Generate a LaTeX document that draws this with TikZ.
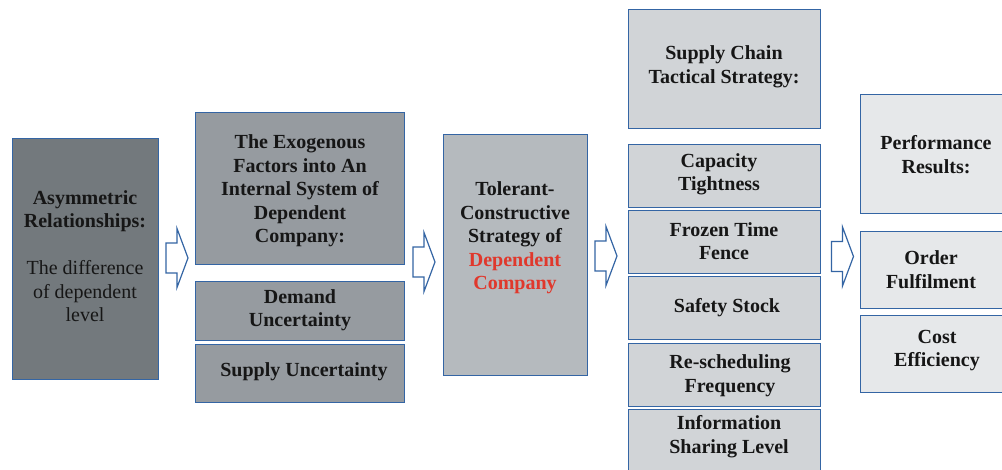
\documentclass[tikz,border=0pt]{standalone}
\usepackage{fontspec}
\setmainfont{Liberation Serif}
\newfontfamily\tnr{Liberation Serif}
\definecolor{bordc}{RGB}{52,101,164}
\definecolor{fA}{RGB}{115,121,125}
\definecolor{fB}{RGB}{150,155,160}
\definecolor{fC}{RGB}{181,186,190}
\definecolor{fD}{RGB}{209,212,215}
\definecolor{fE}{RGB}{230,232,234}
\definecolor{txtc}{RGB}{22,22,22}
\definecolor{redc}{RGB}{224,56,44}
\tikzset{
  box/.style={draw=bordc, line width=1.3pt, fill=#1, anchor=north west, inner sep=0pt},
  txt/.style={align=center, text=txtc, font=\tnr\fontsize{20}{23.5}\selectfont\bfseries, inner sep=0pt},
  blockarrow/.pic={
    \draw[draw=bordc, line width=1.2pt, fill=white, line join=miter]
      (-11,-15) -- (0,-15) -- (0,-29.5) -- (11,0) -- (0,29.5) -- (0,15) -- (-11,15) -- cycle;
  }
}
\begin{document}
\begin{tikzpicture}[x=1pt,y=-1pt]
\useasboundingbox (0,0) rectangle (1002,470);
\clip (0,0) rectangle (1002,470);
\fill[white] (0,0) rectangle (1002,470);
% column 1
\node[box=fA, minimum width=146pt, minimum height=241pt] (b1) at (12,138) {};
\node[txt] (t1) at (85,256) {Asymmetric\\Relationships:\\[23.5pt]\mdseries The difference\\\mdseries of dependent\\\mdseries level};
% column 2
\node[box=fB, minimum width=209pt, minimum height=152pt] (b2) at (195,112) {};
\node[txt] (t2) at (300,191) {The Exogenous\\Factors into An\\Internal System of\\Dependent\\Company:};
\node[box=fB, minimum width=209pt, minimum height=59pt] (b2a) at (195,281) {};
\node[txt] (t2a) at (300,310) {Demand\\Uncertainty};
\node[box=fB, minimum width=209pt, minimum height=58pt] (b2b) at (195,344) {};
\node[txt] (t2b) at (304,372) {Supply Uncertainty};
% column 3
\node[box=fC, minimum width=144pt, minimum height=241pt] (b3) at (443,134) {};
\node[txt] (t3) at (515,238) {Tolerant-\\Constructive\\Strategy of\\\textcolor{redc}{Dependent}\\\textcolor{redc}{Company}};
% column 4
\node[box=fD, minimum width=192pt, minimum height=119pt] (b4) at (628,9) {};
\node[txt] (t4) at (724,67) {Supply Chain\\Tactical Strategy:};
\node[box=fD, minimum width=192pt, minimum height=63pt] (b4a) at (628,144) {};
\node[txt] (t4a) at (719,174.5) {Capacity\\Tightness};
\node[box=fD, minimum width=192pt, minimum height=63pt] (b4b) at (628,210) {};
\node[txt] (t4b) at (724,241) {Frozen Time\\Fence};
\node[box=fD, minimum width=192pt, minimum height=63pt] (b4c) at (628,276) {};
\node[txt] (t4c) at (727,308) {Safety Stock};
\node[box=fD, minimum width=192pt, minimum height=63pt] (b4d) at (628,343) {};
\node[txt] (t4d) at (730,375.5) {Re-scheduling\\Frequency};
\node[box=fD, minimum width=192pt, minimum height=70pt] (b4e) at (628,409) {};
\node[txt] (t4e) at (729,436.5) {Information\\Sharing Level};
% column 5
\node[box=fE, minimum width=150pt, minimum height=119pt] (b5) at (860,94) {};
\node[txt] (t5) at (936,154.5) {Performance\\Results:};
\node[box=fE, minimum width=150pt, minimum height=77pt] (b5a) at (860,231) {};
\node[txt] (t5a) at (931,269.5) {Order\\Fulfilment};
\node[box=fE, minimum width=150pt, minimum height=77pt] (b5b) at (860,315) {};
\node[txt] (t5b) at (937,350.5) {Cost\\Efficiency};
% block arrows
\pic (a1) at (177,258) {blockarrow};
\pic (a2) at (424,262) {blockarrow};
\pic (a3) at (606,256) {blockarrow};
\pic (a4) at (842.5,256.5) {blockarrow};
\end{tikzpicture}
\end{document}
